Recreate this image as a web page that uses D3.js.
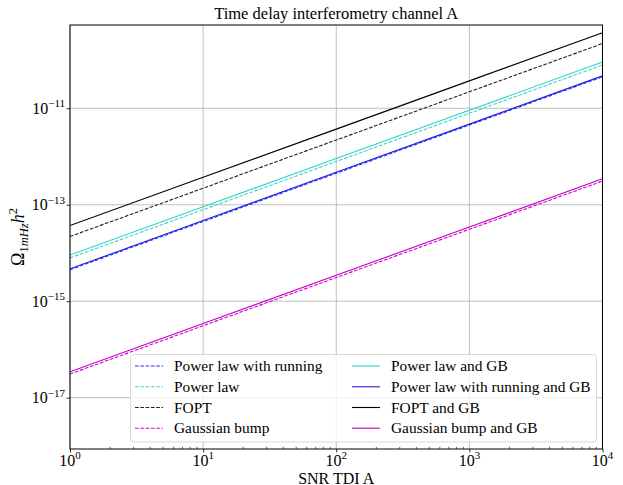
<!DOCTYPE html>
<html>
<head>
<meta charset="utf-8">
<script src="https://cdn.jsdelivr.net/npm/d3@7"></script>
<style>
  html, body { margin: 0; padding: 0; background: #fff; }
  svg { display: block; }
  text { font-family: "Liberation Serif", "DejaVu Serif", serif; fill: #000; }
</style>
</head>
<body>
<svg id="chart" width="623" height="485"></svg>
<script>
// SNR in TDI channel A (x) and the corresponding Omega at 1 mHz (y)
const snr = [1, 10, 100, 1000, 10000];

const powerLawRunning      = [4.5e-15, 4.5e-14, 4.5e-13, 4.5e-12, 4.5e-11];
const powerLaw             = [7.9e-15, 7.9e-14, 7.9e-13, 7.9e-12, 7.9e-11];
const fopt                 = [2.2e-14, 2.2e-13, 2.2e-12, 2.2e-11, 2.2e-10];
const gaussianBump         = [3.1e-17, 3.1e-16, 3.1e-15, 3.1e-14, 3.1e-13];
const powerLawGB           = [9.1e-15, 9.1e-14, 9.1e-13, 9.1e-12, 9.1e-11];
const powerLawRunningGB    = [4.7e-15, 4.7e-14, 4.7e-13, 4.7e-12, 4.7e-11];
const foptGB               = [3.7e-14, 3.7e-13, 3.7e-12, 3.7e-11, 3.7e-10];
const gaussianBumpGB       = [3.45e-17, 3.45e-16, 3.45e-15, 3.45e-14, 3.45e-13];

const seriesNames = [
  "Power law with running", "Power law", "FOPT", "Gaussian bump",
  "Power law and GB", "Power law with running and GB", "FOPT and GB", "Gaussian bump and GB"
];
const seriesValues = [
  powerLawRunning, powerLaw, fopt, gaussianBump,
  powerLawGB, powerLawRunningGB, foptGB, gaussianBumpGB
];
const seriesColors = [
  "#2b2bff", "#3fd4d0", "#222222", "#d600d6",
  "#2fd2c8", "#1e1ee6", "#000000", "#c000c0"
];
const seriesDashed = [true, true, true, true, false, false, false, false];

const xTicks = [1, 10, 100, 1000, 10000];
const xTickExp = ["0", "1", "2", "3", "4"];
const yTicks = [1e-17, 1e-15, 1e-13, 1e-11];
const yTickExp = ["\u221217", "\u221215", "\u221213", "\u221211"];

const svg = d3.select("#chart");
const m = { left: 70, right: 602.5, top: 25, bottom: 449 };

const x = d3.scaleLog().domain([1, 1e4]).range([m.left, m.right]);
const y = d3.scaleLog().domain([Math.pow(10, -18.064), Math.pow(10, -9.273)]).range([m.bottom, m.top]);

const plot = svg.append("g");

// grid
plot.append("g").selectAll("line").data(xTicks).join("line")
  .attr("x1", d => x(d)).attr("x2", d => x(d))
  .attr("y1", m.top).attr("y2", m.bottom)
  .attr("stroke", "#b0b0b0").attr("stroke-width", 0.8);
plot.append("g").selectAll("line").data(yTicks).join("line")
  .attr("y1", d => y(d)).attr("y2", d => y(d))
  .attr("x1", m.left).attr("x2", m.right)
  .attr("stroke", "#b0b0b0").attr("stroke-width", 0.8);

// series lines
const line = d3.line().x((d, i) => x(snr[i])).y(d => y(d));
svg.append("clipPath").attr("id", "clip").append("rect")
  .attr("x", m.left).attr("y", m.top).attr("width", m.right - m.left).attr("height", m.bottom - m.top);
const lines = plot.append("g").attr("clip-path", "url(#clip)");
seriesValues.forEach((vals, k) => {
  lines.append("path")
    .attr("d", line(vals))
    .attr("fill", "none")
    .attr("stroke", seriesColors[k])
    .attr("stroke-width", 1.1)
    .attr("stroke-dasharray", seriesDashed[k] ? "3.7,1.6" : null);
});

// axes
const xAxis = d3.axisBottom(x).tickValues(xTicks).tickSize(3.5).tickFormat("");
const xg = svg.append("g").attr("transform", `translate(0,${m.bottom})`).call(xAxis);
xg.select(".domain").remove();
xg.selectAll(".tick line").attr("stroke", "#000").attr("stroke-width", 0.8);

// minor x ticks
const minor = [];
for (let e = 0; e < 4; e++) for (let k = 2; k <= 9; k++) minor.push(k * Math.pow(10, e));
svg.append("g").selectAll("line").data(minor).join("line")
  .attr("x1", d => x(d)).attr("x2", d => x(d))
  .attr("y1", m.bottom - 2.2).attr("y2", m.bottom)
  .attr("stroke", "#000").attr("stroke-width", 0.6);

const yAxis = d3.axisLeft(y).tickValues(yTicks).tickSize(3.5).tickFormat("");
const yg = svg.append("g").attr("transform", `translate(${m.left},0)`).call(yAxis);
yg.select(".domain").remove();
yg.selectAll(".tick line").attr("stroke", "#000").attr("stroke-width", 0.8);

// tick labels with superscript exponents
xTicks.forEach((t, i) => {
  const txt = svg.append("text")
    .attr("x", x(t)).attr("y", m.bottom + 16.5)
    .attr("text-anchor", "middle").attr("font-size", 16);
  txt.append("tspan").text("10");
  txt.append("tspan").attr("dy", -6.5).attr("font-size", 11).text(xTickExp[i]);
});
yTicks.forEach((t, i) => {
  const txt = svg.append("text")
    .attr("x", m.left - 5).attr("y", y(t) + 5.5)
    .attr("text-anchor", "end").attr("font-size", 16);
  txt.append("tspan").text("10");
  txt.append("tspan").attr("dy", -6.5).attr("font-size", 11).text(yTickExp[i]);
});

// frame
svg.append("rect")
  .attr("x", m.left).attr("y", m.top)
  .attr("width", m.right - m.left).attr("height", m.bottom - m.top)
  .attr("fill", "none").attr("stroke", "#000").attr("stroke-width", 1);

// title and axis labels
svg.append("text").attr("x", (m.left + m.right) / 2).attr("y", 19)
  .attr("text-anchor", "middle").attr("font-size", 16.5)
  .text("Time delay interferometry channel A");

svg.append("text").attr("x", (m.left + m.right) / 2).attr("y", 483.5)
  .attr("text-anchor", "middle").attr("font-size", 16)
  .text("SNR TDI A");

const yl = svg.append("text")
  .attr("transform", `translate(24,${(m.top + m.bottom) / 2}) rotate(-90)`)
  .attr("text-anchor", "middle").attr("font-size", 18);
yl.append("tspan").text("\u03A9");
yl.append("tspan").attr("dy", 4).attr("font-size", 12.5).text("1");
yl.append("tspan").attr("font-size", 12.5).attr("font-style", "italic").text("mHz");
yl.append("tspan").attr("dy", -4).attr("font-style", "italic").text("h");
yl.append("tspan").attr("dy", -7).attr("font-size", 12.5).text("2");

// legend
const lg = svg.append("g");
lg.append("rect")
  .attr("x", 130.5).attr("y", 354.5).attr("width", 466).attr("height", 87.5)
  .attr("rx", 3).attr("fill", "#fff").attr("fill-opacity", 0.8)
  .attr("stroke", "#d9d9d9").attr("stroke-width", 1);
const cols = [{ hx: 135, tx: 174 }, { hx: 352, tx: 391 }];
const rowY = [366, 386.8, 407.5, 428.2];
seriesNames.forEach((name, k) => {
  const c = cols[Math.floor(k / 4)];
  const ry = rowY[k % 4];
  lg.append("line")
    .attr("x1", c.hx).attr("x2", c.hx + 28).attr("y1", ry).attr("y2", ry)
    .attr("stroke", seriesColors[k]).attr("stroke-width", 1.1)
    .attr("stroke-dasharray", seriesDashed[k] ? "3.7,1.6" : null);
  lg.append("text").attr("x", c.tx).attr("y", ry + 5)
    .attr("font-size", 15.4).text(name);
});
</script>
</body>
</html>
